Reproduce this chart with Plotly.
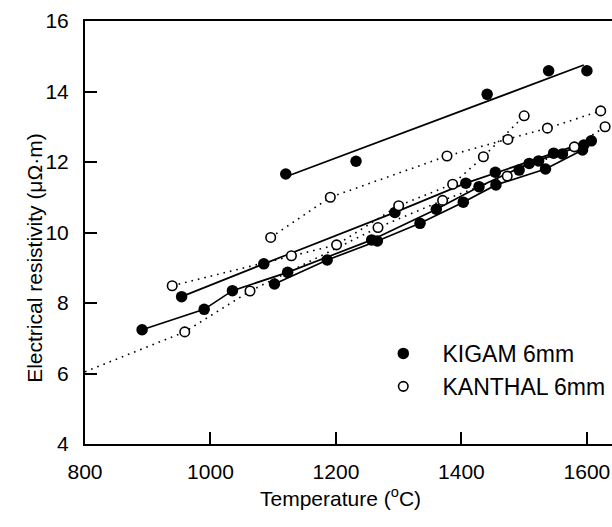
import plotly.graph_objects as go

# ---- data ----
kigam_x = [891, 954, 990, 1035, 1085, 1102, 1120, 1123, 1186, 1232, 1257, 1266, 1294, 1334,
           1360, 1403, 1407, 1428, 1441, 1454, 1455, 1492, 1508, 1523, 1534, 1539, 1547, 1561,
           1593, 1595, 1600, 1607]
kigam_y = [7.24, 8.18, 7.82, 8.35, 9.11, 8.54, 11.66, 8.87, 9.22, 12.02, 9.79, 9.76, 10.57, 10.26,
           10.66, 10.86, 11.40, 11.30, 13.92, 11.71, 11.35, 11.77, 11.96, 12.03, 11.80, 14.59, 12.25, 12.23,
           12.34, 12.48, 14.59, 12.60]

kanthal_x = [939, 959, 1063, 1096, 1129, 1191, 1201, 1267, 1300, 1370, 1377, 1386, 1435, 1473,
             1474, 1500, 1537, 1580, 1622, 1629]
kanthal_y = [8.49, 7.18, 8.34, 9.86, 9.34, 11.00, 9.65, 10.14, 10.76, 10.91, 12.17, 11.37, 12.15, 11.60,
             12.64, 13.31, 12.96, 12.43, 13.45, 13.00]

# KIGAM run lines (solid)
kigam_top_x = [1120, 1595]
kigam_top_y = [11.58, 14.75]
kigam_a_x = [954, 1085, 1294, 1407, 1608]
kigam_a_y = [8.18, 9.11, 10.57, 11.40, 12.62]
kigam_b_x = [891, 990, 1035, 1123, 1257, 1360, 1428, 1508, 1595]
kigam_b_y = [7.24, 7.82, 8.35, 8.87, 9.79, 10.66, 11.30, 11.96, 12.48]
kigam_c_x = [1102, 1186, 1266, 1334, 1403, 1455, 1534, 1593]
kigam_c_y = [8.54, 9.22, 9.76, 10.26, 10.86, 11.35, 11.80, 12.34]

# KANTHAL run lines (dotted)
kanthal_1_x = [1096, 1191, 1377, 1474, 1537, 1622]
kanthal_1_y = [9.86, 11.00, 12.17, 12.64, 12.96, 13.45]
kanthal_2_x = [939, 1129, 1201, 1300, 1386, 1435, 1500]
kanthal_2_y = [8.49, 9.34, 9.65, 10.76, 11.37, 12.15, 13.31]
kanthal_3_x = [800, 959, 1063, 1267, 1370, 1473, 1580, 1629]
kanthal_3_y = [6.05, 7.18, 8.34, 10.14, 10.91, 11.60, 12.43, 13.00]

x_ticks = [800, 1000, 1200, 1400, 1600]
y_ticks = [4, 6, 8, 10, 12, 14, 16]

FONT = "Liberation Sans, Arial, sans-serif"

fig = go.Figure()

for xs, ys in [(kigam_top_x, kigam_top_y), (kigam_a_x, kigam_a_y),
               (kigam_b_x, kigam_b_y), (kigam_c_x, kigam_c_y)]:
    fig.add_trace(go.Scatter(x=xs, y=ys, mode="lines", showlegend=False,
                             line=dict(color="black", width=1.7), hoverinfo="skip"))

for xs, ys in [(kanthal_1_x, kanthal_1_y), (kanthal_2_x, kanthal_2_y),
               (kanthal_3_x, kanthal_3_y)]:
    fig.add_trace(go.Scatter(x=xs, y=ys, mode="lines", showlegend=False,
                             line=dict(color="black", width=1.6, dash="1.6px,5px"),
                             hoverinfo="skip"))

fig.add_trace(go.Scatter(x=kigam_x, y=kigam_y, mode="markers",
                         name="\u00a0\u00a0\u00a0KIGAM 6mm",
                         marker=dict(symbol="circle", size=11.5, color="black",
                                     line=dict(color="black", width=0))))
fig.add_trace(go.Scatter(x=kanthal_x, y=kanthal_y, mode="markers",
                         name="\u00a0\u00a0\u00a0KANTHAL 6mm",
                         marker=dict(symbol="circle", size=9.5, color="white",
                                     line=dict(color="black", width=1.6))))

fig.update_layout(
    width=612, height=527,
    margin=dict(l=85, r=0, t=21, b=83),
    paper_bgcolor="white", plot_bgcolor="white",
    font=dict(family=FONT, size=21, color="black"),
    showlegend=True,
    legend=dict(x=0.566, y=0.175, xanchor="left", yanchor="middle",
                bgcolor="rgba(0,0,0,0)", borderwidth=0,
                font=dict(family=FONT, size=23, color="black"),
                tracegroupgap=0),
    xaxis=dict(range=[800, 1640], tickvals=x_ticks, ticktext=[str(v) for v in x_ticks],
               ticks="inside", ticklen=12, tickwidth=1.6, tickcolor="black",
               showline=True, linecolor="black", linewidth=2, mirror=True,
               showgrid=False, zeroline=False, ticklabelstandoff=8,
               tickfont=dict(family=FONT, size=21)),
    yaxis=dict(range=[4, 16], tickvals=y_ticks, ticktext=[str(v) for v in y_ticks],
               ticks="inside", ticklen=12, tickwidth=1.6, tickcolor="black",
               showline=True, linecolor="black", linewidth=2,
               showgrid=False, zeroline=False, ticklabelstandoff=10,
               tickfont=dict(family=FONT, size=21)),
    annotations=[
        dict(text="Temperature (<sup>o</sup>C)", xref="paper", yref="paper",
             x=0.484, y=-0.125, xanchor="center", yanchor="middle", showarrow=False,
             font=dict(family=FONT, size=21)),
        dict(text="Electrical resistivity (\u03bc\u03a9\u00b7m)", xref="paper", yref="paper",
             x=-0.095, y=0.44, xanchor="center", yanchor="middle", showarrow=False,
             textangle=-90, font=dict(family=FONT, size=21)),
    ],
)

fig.write_html("out.html")
